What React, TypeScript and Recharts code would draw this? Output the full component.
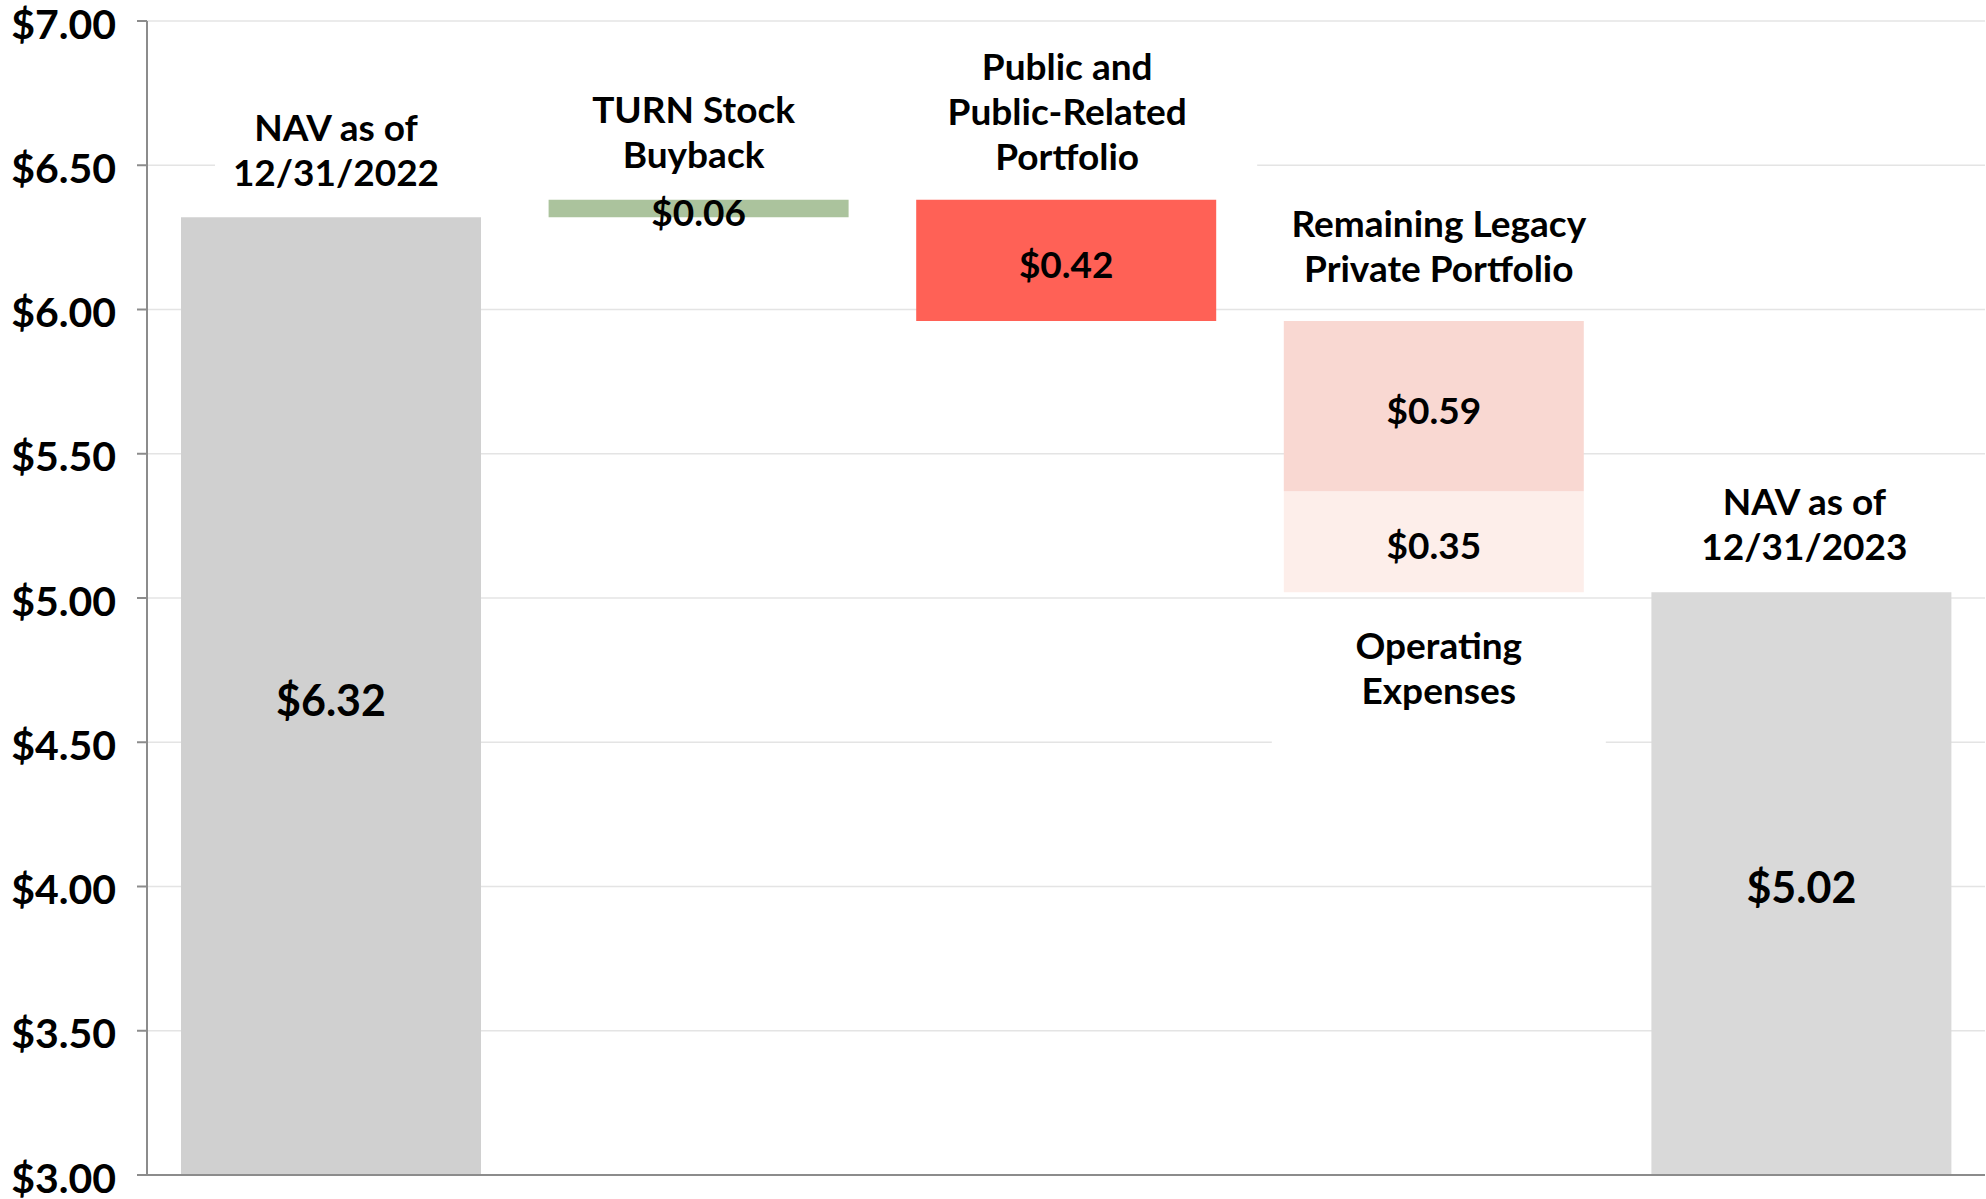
import React from "react"
import { Bar, BarChart, CartesianGrid, Cell, LabelList, XAxis, YAxis } from "recharts"

const categories = [
  "NAV 12/31/2022",
  "TURN Stock Buyback",
  "Public and Public-Related Portfolio",
  "Remaining Legacy Private Portfolio",
  "NAV 12/31/2023",
]
const topLabels = [
  ["NAV as of", "12/31/2022"],
  ["TURN Stock", "Buyback"],
  ["Public and", "Public-Related", "Portfolio"],
  ["Remaining Legacy", "Private Portfolio"],
  ["NAV as of", "12/31/2023"],
]
const bottomLabels: (string[] | null)[] = [null, null, null, ["Operating", "Expenses"], null]

// invisible base + two visible segments (lower, upper)
const baseValues = [0, 6.32, 5.96, 5.02, 0]
const lowerValues = [6.32, 0.06, 0.42, 0.35, 5.02]
const upperValues = [0, 0, 0, 0.59, 0]
const yTicks = [3, 3.5, 4, 4.5, 5, 5.5, 6, 6.5, 7]

const lowerColors = ["#d0d0d0", "#abc39d", "#ff6156", "#fdeeea", "#d9d9d9"]
const upperColor = "#f9d8d2"
const totalBars = [true, false, false, false, true]

const data = categories.map((name, i) => ({
  name,
  base: baseValues[i],
  lower: lowerValues[i],
  upper: upperValues[i],
}))

const W = 1986
const H = 1199
const MARGIN = { top: 21, right: 1, bottom: 23, left: 0 }
const X_AXIS_H = 1
const PLOT_BOTTOM = H - MARGIN.bottom - X_AXIS_H
const FONT = "Lato, Roboto, 'Noto Sans', sans-serif"
const LINE_H = 45
// label boxes (white, hide gridlines): half widths left/right, nudges of the label centre
const topBoxes = [
  [121, 190],
  [190, 190],
  [190, 190],
  [190, 190],
  [190, 190],
]
const labelNudge = [5, -5, 1, 5, 3]
const labelGap = [46, 46, 44, 54, 47]

const money = (v: number) => `$${v.toFixed(2)}`

function YTick(props: any) {
  const { x, y, payload } = props
  return (
    <text
      x={x}
      y={y + 2}
      textAnchor="end"
      dominantBaseline="central"
      fontFamily={FONT}
      fontWeight={700}
      fontSize={41}
      fill="#000"
    >
      {money(Number(payload.value))}
    </text>
  )
}

function ValueText({ cx, cy, value, big }: { cx: number; cy: number; value: number; big: boolean }) {
  return (
    <text
      x={cx}
      y={cy}
      textAnchor="middle"
      dominantBaseline="central"
      fontFamily={FONT}
      fontWeight={700}
      fontSize={big ? 43 : 37}
      fill="#000"
    >
      {money(value)}
    </text>
  )
}

function TextBlock({ cx, firstY, lines, box }: { cx: number; firstY: number; lines: string[]; box: number[] }) {
  return (
    <g>
      <rect x={cx - box[0]} y={box[2]} width={box[0] + box[1]} height={box[3] - box[2]} fill="#ffffff" />
      {lines.map((line, k) => (
        <text
          key={k}
          x={cx}
          y={firstY + k * LINE_H}
          textAnchor="middle"
          dominantBaseline="central"
          fontFamily={FONT}
          fontWeight={700}
          fontSize={37}
          fill="#000"
        >
          {line}
        </text>
      ))}
    </g>
  )
}

// all labels hang off the "lower" segment; the upper segment is placed with the same px-per-unit
function segmentLabels(props: any) {
  const vb = props.viewBox ?? props
  const index: number = props.index
  const lower = lowerValues[index]
  const upper = upperValues[index]
  const x = Number(vb.x)
  const y = Number(vb.y)
  const w = Number(vb.width)
  const h = Number(vb.height)
  const top = Math.min(y, y + h)
  const rawBottom = Math.max(y, y + h)
  const pxPerUnit = (rawBottom - top) / lower
  const bottom = Math.min(rawBottom, PLOT_BOTTOM)
  const upperTop = top - upper * pxPerUnit
  const cx = x + w / 2
  const lcx = cx + labelNudge[index]
  const tl = topLabels[index]
  const lastTop = upperTop - labelGap[index]
  const firstTop = lastTop - (tl.length - 1) * LINE_H
  const bl = bottomLabels[index]
  return (
    <g>
      <ValueText cx={cx} cy={(top + bottom) / 2 + 3} value={lower} big={totalBars[index]} />
      {upper > 0 && <ValueText cx={cx} cy={(upperTop + top) / 2 + 3} value={upper} big={false} />}
      <TextBlock
        cx={lcx}
        firstY={firstTop}
        lines={tl}
        box={[topBoxes[index][0], topBoxes[index][1], firstTop - 30, lastTop + 30]}
      />
      {bl && (
        <TextBlock
          cx={lcx}
          firstY={bottom + 52}
          lines={bl}
          box={[167, 167, bottom + 22, bottom + 52 + (bl.length - 1) * LINE_H + 62]}
        />
      )}
    </g>
  )
}

export default function App() {
  return (
    <div style={{ position: "absolute", left: 0, top: 0, width: W, height: H, background: "#fff" }}>
      <BarChart width={W} height={H} data={data} margin={MARGIN} barSize={300}>
        <CartesianGrid vertical={false} stroke="#e4e4e4" strokeWidth={1.5} />
        <XAxis
          dataKey="name"
          tick={false}
          tickLine={false}
          height={X_AXIS_H}
          axisLine={{ stroke: "#8c8c8c", strokeWidth: 2 }}
        />
        <YAxis
          domain={[3, 7]}
          ticks={yTicks}
          allowDataOverflow
          width={147}
          tickSize={10}
          tickMargin={21}
          axisLine={{ stroke: "#8c8c8c", strokeWidth: 2 }}
          tickLine={{ stroke: "#8c8c8c", strokeWidth: 2 }}
          tick={<YTick />}
        />
        <Bar dataKey="base" stackId="w" fill="transparent" isAnimationActive={false} />
        <Bar dataKey="lower" stackId="w" isAnimationActive={false}>
          {data.map((d, i) => (
            <Cell key={d.name} fill={lowerColors[i]} />
          ))}
          <LabelList dataKey="lower" content={segmentLabels} zIndex={2000} />
        </Bar>
        <Bar dataKey="upper" stackId="w" fill={upperColor} isAnimationActive={false} />
      </BarChart>
    </div>
  )
}
